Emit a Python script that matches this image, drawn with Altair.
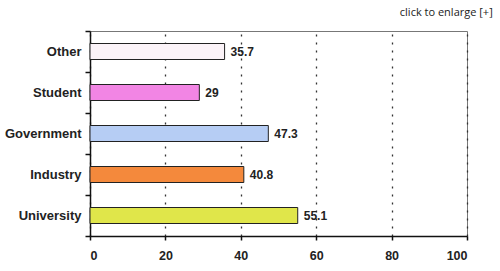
import altair as alt
import pandas as pd

categories = ["Other", "Student", "Government", "Industry", "University"]
values = [35.7, 29, 47.3, 40.8, 55.1]
colors = ["#fbf3f8", "#f285e4", "#b6cdf4", "#f4893c", "#e0e64a"]
labels = ["35.7", "29", "47.3", "40.8", "55.1"]

df = pd.DataFrame({"cat": categories, "val": values, "color": colors, "label": labels})

x_scale = alt.Scale(domain=[0, 100])
y_axis = alt.Axis(tickBand="extent", labelFont="Liberation Sans", labelFontWeight="bold",
                  labelFontSize=13, labelColor="#222", labelPadding=4,
                  domainColor="#111", domainWidth=1.5, tickColor="#111",
                  tickWidth=1.5, tickSize=5, grid=False)
y_scale = alt.Scale(paddingInner=0.0, paddingOuter=0.0)

bars = alt.Chart(df).mark_bar(size=16, stroke="#222", strokeWidth=1).encode(
    x=alt.X("val:Q", scale=x_scale, title=None,
            axis=alt.Axis(values=[0, 20, 40, 60, 80, 100], labelFont="Liberation Sans",
                          labelFontWeight="bold", labelFontSize=12.5, labelColor="#222",
                          labelPadding=9, domainColor="#111", domainWidth=1.5,
                          tickColor="#111", tickWidth=1.5, tickSize=4,
                          grid=True, gridDash=[2, 6], gridColor="#333", gridWidth=1.3)),
    y=alt.Y("cat:N", sort=categories, title=None, scale=y_scale, axis=y_axis),
    fill=alt.Fill("color:N", scale=None),
)

text = alt.Chart(df).mark_text(align="left", dx=6, font="Liberation Sans", fontWeight="bold",
                               fontSize=12, color="#222").encode(
    x=alt.X("val:Q", scale=x_scale, title=None),
    y=alt.Y("cat:N", sort=categories, title=None, scale=y_scale, axis=y_axis),
    text="label:N",
)

chart = alt.layer(bars, text).properties(
    width=377, height=205,
    autosize=alt.AutoSizeParams(type="none"),
    padding={"left": 90, "top": 31, "right": 33, "bottom": 35},
    title=alt.TitleParams("click to enlarge [+]", anchor="end", font="Open Sans",
                          fontSize=11, fontWeight="normal", color="#222", dx=25, offset=7),
).configure_view(stroke="#777", strokeWidth=1)

chart.save("out.html", embed_options={"renderer": "svg", "actions": False})
